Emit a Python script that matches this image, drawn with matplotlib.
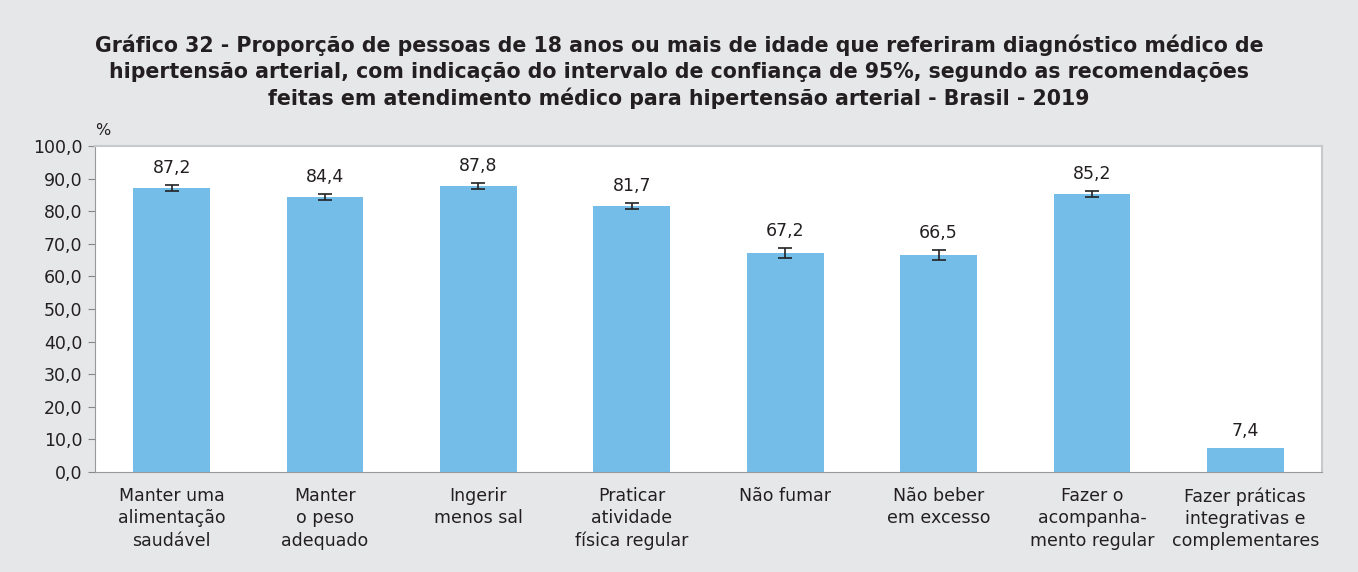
import numpy as np
import matplotlib.pyplot as plt

plt.rcParams['font.family'] = ['DejaVu Sans']

# dados
categorias = ['Manter uma\nalimentação\nsaudável', 'Manter\no peso\nadequado', 'Ingerir\nmenos sal',
              'Praticar\natividade\nfísica regular', 'Não fumar', 'Não beber\nem excesso',
              'Fazer o\nacompanha-\nmento regular', 'Fazer práticas\nintegrativas e\ncomplementares']
valores = [87.2, 84.4, 87.8, 81.7, 67.2, 66.5, 85.2, 7.4]
ic_inf = [86.3, 83.5, 86.9, 80.8, 65.6, 65.0, 84.3, np.nan]
ic_sup = [88.1, 85.3, 88.7, 82.6, 68.8, 68.0, 86.1, np.nan]

fundo = '#e6e7e9'
azul = '#74bde8'
texto = '#231f20'

fig = plt.figure(figsize=(13.58, 5.72), dpi=100, facecolor=fundo)
ax = fig.add_axes([95/1358, 100/572, 1227/1358, 326/572])
ax.set_facecolor('white')

x = np.arange(len(valores))
ax.bar(x, valores, width=0.5, color=azul, zorder=2)

erro = [np.array(valores) - np.array(ic_inf), np.array(ic_sup) - np.array(valores)]
ax.errorbar(x, valores, yerr=erro, fmt='none', ecolor='#222222', elinewidth=1.2,
            capsize=5, capthick=1.2, zorder=3)

for i, v in enumerate(valores):
    topo = ic_sup[i] if not np.isnan(ic_sup[i]) else v
    ax.text(i, topo + 2.5, f'{v:.1f}'.replace('.', ','), ha='center', va='bottom',
            fontsize=12.5, color=texto)

ax.set_xlim(-0.5, len(valores) - 0.5)
ax.set_ylim(0, 100)
ax.set_yticks(np.arange(0, 101, 10))
ax.set_yticklabels([f'{t:.1f}'.replace('.', ',') for t in np.arange(0, 101, 10)],
                   fontsize=12.5, color=texto)
ax.set_xticks(x)
ax.set_xticklabels(categorias, fontsize=12.5, color=texto, linespacing=1.3)
ax.tick_params(axis='x', length=0, pad=11)
ax.tick_params(axis='y', length=5, color='#888888', pad=4)

for lado in ['top', 'right']:
    ax.spines[lado].set_color('#c8c9cb')
    ax.spines[lado].set_linewidth(1.5)
ax.spines['left'].set_color('#999999')
ax.spines['bottom'].set_color('#999999')

ax.text(0.0, 1.025, '%', transform=ax.transAxes, fontsize=11.5, color=texto,
        ha='left', va='bottom')

fig.text(0.5, 0.94, 'Gráfico 32 - Proporção de pessoas de 18 anos ou mais de idade que referiram diagnóstico médico de\n'
         'hipertensão arterial, com indicação do intervalo de confiança de 95%, segundo as recomendações\n'
         'feitas em atendimento médico para hipertensão arterial - Brasil - 2019',
         ha='center', va='top', fontsize=14.8, fontweight='bold', color=texto, linespacing=1.36)

fig.savefig('out.png', dpi=100, facecolor=fundo)
